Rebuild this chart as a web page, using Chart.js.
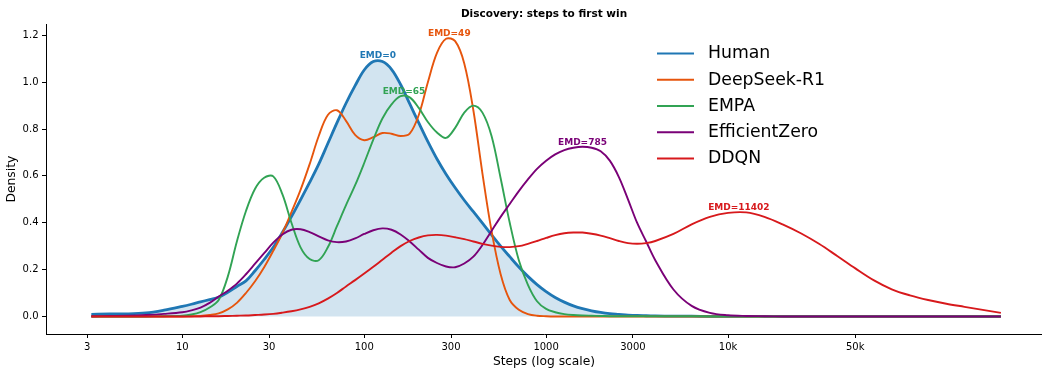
<!DOCTYPE html>
<html>
<head>
<meta charset="utf-8">
<script src="https://cdn.jsdelivr.net/npm/chart.js@4/dist/chart.umd.min.js"></script>
<style>
  html, body { margin: 0; padding: 0; background: #fff; }
  canvas { display: block; }
</style>
</head>
<body>
<canvas id="chart" width="1042" height="369"></canvas>
<script>
// Kernel density of steps-to-first-win, evaluated on a log10(steps) grid.
const seriesNames = ['Human', 'DeepSeek-R1', 'EMPA', 'EfficientZero', 'DDQN'];
const seriesColors = ['#1f77b4', '#e6550d', '#31a354', '#7a0177', '#d7191c'];
const emdValues = [0, 49, 65, 785, 11402];

const logSteps = [
  0.5, 0.6, 0.7, 0.8, 0.9,
  1.00, 1.05, 1.10, 1.15, 1.20, 1.25, 1.30, 1.35, 1.40, 1.45,
  1.50, 1.55, 1.60, 1.65, 1.70, 1.75, 1.80, 1.85, 1.90, 1.95,
  2.00, 2.05, 2.10, 2.15, 2.20, 2.25, 2.30, 2.35, 2.40, 2.45,
  2.50, 2.55, 2.60, 2.65, 2.70, 2.75, 2.80, 2.85, 2.90, 2.95,
  3.00, 3.05, 3.10, 3.15, 3.20, 3.25, 3.30, 3.35, 3.40, 3.45,
  3.50, 3.55, 3.60,
  3.7, 3.8, 3.9, 4.0, 4.1, 4.2, 4.3, 4.4, 4.5, 4.6,
  4.7, 4.8, 4.9, 5.0, 5.1, 5.2, 5.3, 5.4, 5.5
];

const humanDensity = [
  0.009, 0.011, 0.011, 0.015, 0.027,
  0.043, 0.052, 0.062, 0.072, 0.082, 0.103, 0.128, 0.152, 0.195, 0.243,
  0.295, 0.358, 0.426, 0.498, 0.572, 0.650, 0.738, 0.826, 0.910, 0.985,
  1.052, 1.088, 1.088, 1.055, 0.990, 0.908, 0.826, 0.746, 0.672, 0.607,
  0.549, 0.496, 0.447, 0.398, 0.348, 0.300, 0.255, 0.211, 0.171, 0.136,
  0.106, 0.081, 0.061, 0.045, 0.033, 0.024, 0.017, 0.012, 0.009, 0.006,
  0.004, 0.003, 0.002,
  0.001, 0.001, 0, 0, 0, 0, 0, 0, 0, 0,
  0, 0, 0, 0, 0, 0, 0, 0, 0
];

const deepseekDensity = [
  0, 0, 0, 0, 0,
  0, 0.001, 0.002, 0.006, 0.013, 0.030, 0.058, 0.100, 0.150, 0.210,
  0.280, 0.355, 0.445, 0.540, 0.650, 0.770, 0.860, 0.880, 0.835, 0.775,
  0.752, 0.765, 0.783, 0.780, 0.770, 0.780, 0.860, 1.000, 1.125, 1.185,
  1.175, 1.080, 0.880, 0.610, 0.365, 0.180, 0.070, 0.028, 0.010, 0.003,
  0.001, 0, 0, 0, 0, 0, 0, 0, 0, 0,
  0, 0, 0,
  0, 0, 0, 0, 0, 0, 0, 0, 0, 0,
  0, 0, 0, 0, 0, 0, 0, 0, 0
];

const empaDensity = [
  0, 0, 0, 0, 0.001,
  0.003, 0.008, 0.018, 0.038, 0.070, 0.170, 0.320, 0.450, 0.545, 0.592,
  0.598, 0.522, 0.400, 0.295, 0.245, 0.240, 0.295, 0.385, 0.475, 0.560,
  0.655, 0.755, 0.845, 0.905, 0.940, 0.935, 0.890, 0.830, 0.785, 0.762,
  0.805, 0.870, 0.900, 0.870, 0.770, 0.590, 0.400, 0.240, 0.135, 0.065,
  0.032, 0.018, 0.010, 0.006, 0.004, 0.003, 0.002, 0.001, 0.001, 0.001,
  0.001, 0.001, 0.001,
  0.001, 0.001, 0, 0, 0, 0, 0, 0, 0, 0,
  0, 0, 0, 0, 0, 0, 0, 0, 0
];

const efficientZeroDensity = [
  0.001, 0.002, 0.003, 0.006, 0.011,
  0.018, 0.026, 0.038, 0.058, 0.085, 0.110, 0.140, 0.180, 0.225, 0.270,
  0.315, 0.350, 0.370, 0.372, 0.360, 0.342, 0.325, 0.317, 0.320, 0.333,
  0.352, 0.368, 0.376, 0.370, 0.350, 0.320, 0.285, 0.250, 0.228, 0.213,
  0.210, 0.226, 0.255, 0.305, 0.365, 0.425, 0.480, 0.535, 0.585, 0.630,
  0.665, 0.692, 0.710, 0.720, 0.724, 0.720, 0.705, 0.665, 0.595, 0.500,
  0.400, 0.320, 0.240,
  0.115, 0.045, 0.015, 0.005, 0.002, 0.001, 0, 0, 0, 0,
  0, 0, 0, 0, 0, 0, 0, 0, 0
];

const ddqnDensity = [
  0, 0, 0, 0, 0,
  0, 0, 0, 0.001, 0.001, 0.002, 0.003, 0.004, 0.006, 0.008,
  0.011, 0.016, 0.022, 0.030, 0.041, 0.056, 0.076, 0.100, 0.128, 0.155,
  0.183, 0.212, 0.242, 0.272, 0.300, 0.322, 0.337, 0.346, 0.348, 0.345,
  0.338, 0.330, 0.320, 0.310, 0.302, 0.297, 0.296, 0.300, 0.310, 0.322,
  0.335, 0.347, 0.355, 0.358, 0.358, 0.353, 0.345, 0.334, 0.322, 0.313,
  0.310, 0.313, 0.322,
  0.352, 0.393, 0.425, 0.442, 0.444, 0.425, 0.393, 0.355, 0.310, 0.258,
  0.205, 0.155, 0.116, 0.090, 0.070, 0.054, 0.041, 0.028, 0.015
];

const xTickValues = [3, 10, 30, 100, 300, 1000, 3000, 10000, 50000];
const xTickLabels = ['3', '10', '30', '100', '300', '1000', '3000', '10k', '50k'];
const yTickValues = [0, 0.2, 0.4, 0.6, 0.8, 1.0, 1.2];

const densities = [humanDensity, deepseekDensity, empaDensity, efficientZeroDensity, ddqnDensity];
const FONT = 'DejaVu Sans';

const datasets = densities.map((dens, k) => ({
  label: seriesNames[k],
  data: logSteps.map((g, i) => ({ x: Math.pow(10, g), y: dens[i] })),
  borderColor: seriesColors[k],
  backgroundColor: k === 0 ? 'rgba(31,119,180,0.2)' : seriesColors[k],
  borderWidth: k === 0 ? 2.8 : 1.9,
  fill: k === 0 ? 'origin' : false,
  pointRadius: 0,
  tension: 0.35,
  order: densities.length - k
}));

// Legend drawn inside the plot area, upper right, without a frame.
const insideLegend = {
  id: 'insideLegend',
  afterDraw(chart) {
    const ctx = chart.ctx;
    ctx.save();
    ctx.font = `17.3px "${FONT}"`;
    ctx.textBaseline = 'middle';
    ctx.textAlign = 'left';
    seriesNames.forEach((name, k) => {
      const y = 53.5 + k * 26.25;
      ctx.strokeStyle = seriesColors[k];
      ctx.lineWidth = 2;
      ctx.beginPath();
      ctx.moveTo(657, y);
      ctx.lineTo(694, y);
      ctx.stroke();
      ctx.fillStyle = '#000';
      ctx.fillText(name, 708, y + 0.5);
    });
    ctx.restore();
  }
};

// EMD annotation above each density's peak.
const peakLabels = {
  id: 'peakLabels',
  afterDatasetsDraw(chart) {
    const ctx = chart.ctx;
    const xs = chart.scales.x, ys = chart.scales.y;
    ctx.save();
    ctx.font = `bold 9px "${FONT}"`;
    ctx.textAlign = 'center';
    ctx.textBaseline = 'alphabetic';
    densities.forEach((dens, k) => {
      let m = 0;
      dens.forEach((v, i) => { if (v > dens[m]) m = i; });
      let px = logSteps[m], py = dens[m];
      if (m > 0 && m < dens.length - 1) {
        const x0 = logSteps[m - 1], x1 = logSteps[m], x2 = logSteps[m + 1];
        const y0 = dens[m - 1], y1 = dens[m], y2 = dens[m + 1];
        const d = (x0 - x1) * (x0 - x2) * (x1 - x2);
        const A = (x2 * (y1 - y0) + x1 * (y0 - y2) + x0 * (y2 - y1)) / d;
        const B = (x2 * x2 * (y0 - y1) + x1 * x1 * (y2 - y0) + x0 * x0 * (y1 - y2)) / d;
        const C = (x1 * x2 * (x1 - x2) * y0 + x2 * x0 * (x2 - x0) * y1 + x0 * x1 * (x0 - x1) * y2) / d;
        if (A < 0) { px = -B / (2 * A); py = C - B * B / (4 * A); }
      }
      ctx.fillStyle = seriesColors[k];
      ctx.fillText('EMD=' + emdValues[k], xs.getPixelForValue(Math.pow(10, px)), ys.getPixelForValue(py) - 2);
    });
    ctx.restore();
  }
};

new Chart(document.getElementById('chart'), {
  type: 'line',
  data: { datasets },
  options: {
    responsive: false,
    animation: false,
    devicePixelRatio: 1,
    layout: { padding: 0 },
    plugins: {
      legend: { display: false },
      tooltip: { enabled: false },
      title: {
        display: true,
        text: 'Discovery: steps to first win',
        fullSize: false,
        color: '#000',
        font: { family: FONT, size: 10.5, weight: 'bold', lineHeight: 1.2 },
        padding: { top: 7.5, bottom: 4.2 }
      }
    },
    scales: {
      x: {
        type: 'logarithmic',
        min: Math.pow(10, 0.2507),
        max: Math.pow(10, 5.726),
        afterBuildTicks(scale) { scale.ticks = xTickValues.map(v => ({ value: v })); },
        afterFit(scale) { scale.height = 35; },
        ticks: {
          autoSkip: false,
          maxRotation: 0,
          color: '#000',
          font: { family: FONT, size: 10 },
          padding: 3,
          callback: (v) => { const i = xTickValues.indexOf(v); return i >= 0 ? xTickLabels[i] : ''; }
        },
        grid: { display: true, drawOnChartArea: false, drawTicks: true, tickLength: 4, tickColor: '#000', tickWidth: 1 },
        border: { display: true, color: '#000', width: 1 },
        title: {
          display: true,
          text: 'Steps (log scale)',
          color: '#000',
          font: { family: FONT, size: 12.3 },
          padding: { top: 0, bottom: 0 }
        }
      },
      y: {
        type: 'linear',
        min: -0.075,
        max: 1.247,
        afterBuildTicks(scale) { scale.ticks = yTickValues.map(v => ({ value: v })); },
        afterFit(scale) { scale.width = 46; },
        ticks: {
          color: '#000',
          font: { family: FONT, size: 10 },
          padding: 3.5,
          callback: (v) => Number(v).toFixed(1)
        },
        grid: { display: true, drawOnChartArea: false, drawTicks: true, tickLength: 4, tickColor: '#000', tickWidth: 1 },
        border: { display: true, color: '#000', width: 1 },
        title: {
          display: true,
          text: 'Density',
          color: '#000',
          font: { family: FONT, size: 12.3 },
          padding: { top: 4.5, bottom: 0 }
        }
      }
    }
  },
  plugins: [insideLegend, peakLabels]
});
</script>
</body>
</html>
